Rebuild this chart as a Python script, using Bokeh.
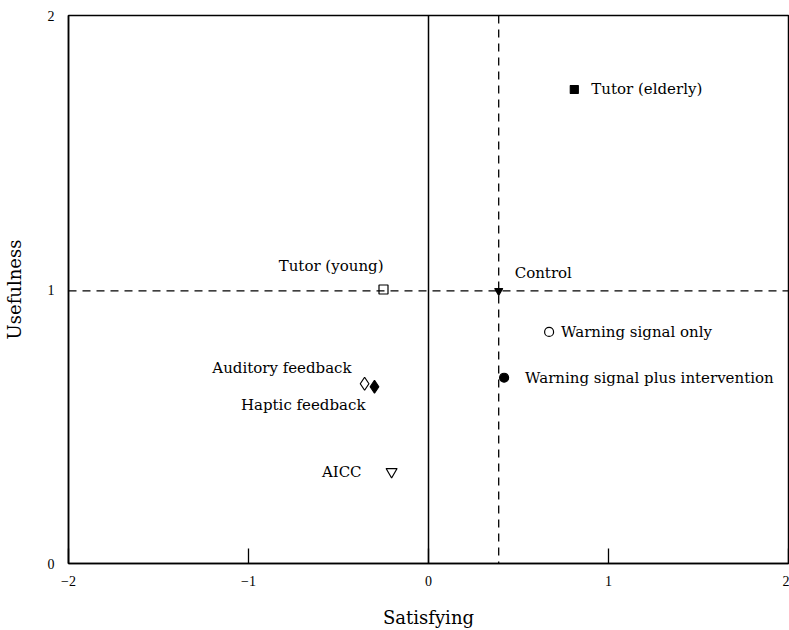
from bokeh.plotting import figure
from bokeh.models import Range1d, Span, FixedTicker, ColumnDataSource
from bokeh.embed import file_html
from bokeh.resources import INLINE
from bokeh.core.properties import value

# ---- data ----
conditions = ["Tutor (elderly)", "Control", "Warning signal only",
              "Warning signal plus intervention", "Tutor (young)",
              "Auditory feedback", "Haptic feedback", "AICC"]
satisfying = [0.81, 0.39, 0.67, 0.42, -0.25, -0.355, -0.30, -0.205]
usefulness = [1.73, 0.995, 0.845, 0.678, 1.0, 0.656, 0.645, 0.335]
x_ticks = [-2, -1, 0, 1, 2]
y_ticks = [0, 1, 2]

# ---- styles ----
markers = ["square", "inverted_triangle", "circle", "circle", "square",
           "diamond", "diamond", "inverted_triangle"]
fills = ["black", "black", "white", "black", "white", "white", "black", "white"]
sizes = [8, 8, 9, 9, 9, 13, 13, 11]
label_dx = [17, 16, 12, 21, 0, -13, -9, -30]
label_dy = [0, -18, 0, 0, -24, -16, 18, 0]
label_align = ["left", "left", "left", "left", "right", "right", "right", "right"]

FONT = "Liberation Serif"
LFONT = "DejaVu Serif"

p = figure(width=789, height=630, output_backend="svg", toolbar_location=None,
           x_range=Range1d(-2, 2), y_range=Range1d(0, 2),
           min_border_left=68, min_border_right=1, min_border_top=15,
           min_border_bottom=66)
p.grid.visible = False
p.outline_line_color = "black"
p.outline_line_width = 1.5
p.background_fill_color = "white"
p.border_fill_color = "white"

# reference lines through Control point, and solid zero line
ci = conditions.index("Control")
p.add_layout(Span(location=satisfying[ci], dimension="height", line_color="black",
                  line_dash="8 6", line_width=1.3))
p.add_layout(Span(location=usefulness[ci], dimension="width", line_color="black",
                  line_dash="8 6", line_width=1.3))
p.add_layout(Span(location=0, dimension="height", line_color="black", line_width=1.5))

src = ColumnDataSource(dict(x=satisfying, y=usefulness, name=conditions,
                            marker=markers, fill=fills, size=sizes,
                            dx=label_dx, dy=label_dy, align=label_align))
p.scatter(x="x", y="y", marker="marker", size="size", fill_color="fill",
          line_color="black", line_width=1.2, source=src)
p.text(x="x", y="y", text="name", x_offset="dx", y_offset="dy",
       text_align="align", text_baseline="middle",
       text_font=value(LFONT), text_font_size="15px", text_color="black",
       source=src)

# axes
xa = p.xaxis[0]
xa.ticker = FixedTicker(ticks=x_ticks)
xa.axis_label = "Satisfying"
xa.major_tick_in = 15
xa.major_tick_out = 0
xa.minor_tick_line_color = None
xa.major_label_standoff = 12
xa.axis_label_standoff = 18
xa.axis_line_width = 1.5
xa.major_tick_line_width = 1.3
xa.major_label_text_font = FONT
xa.major_label_text_font_size = "14px"
xa.major_label_text_color = "black"
xa.axis_label_text_font = LFONT
xa.axis_label_text_font_size = "18px"
xa.axis_label_text_font_style = "normal"
xa.axis_label_text_color = "black"

ya = p.yaxis[0]
ya.ticker = FixedTicker(ticks=y_ticks)
ya.axis_label = "Usefulness"
ya.major_tick_in = 0
ya.major_tick_out = 0
ya.minor_tick_line_color = None
ya.major_label_standoff = 14
ya.axis_label_standoff = 20
ya.axis_line_width = 1.5
ya.major_label_text_font = FONT
ya.major_label_text_font_size = "14px"
ya.major_label_text_color = "black"
ya.axis_label_text_font = LFONT
ya.axis_label_text_font_size = "18px"
ya.axis_label_text_font_style = "normal"
ya.axis_label_text_color = "black"

open("out.html", "w").write(file_html(p, INLINE))
